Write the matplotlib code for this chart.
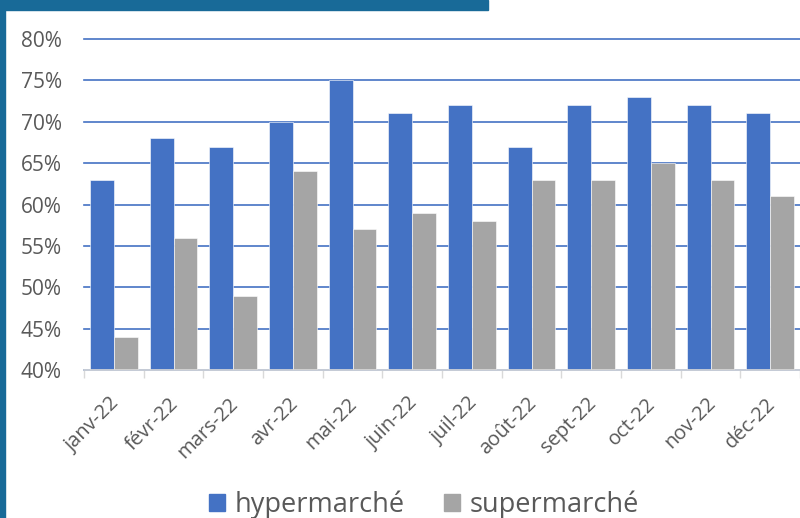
import numpy as np
import matplotlib
matplotlib.use("Agg")
import matplotlib.pyplot as plt
from matplotlib.patches import Rectangle, Patch
from matplotlib.transforms import ScaledTranslation

plt.rcParams['font.family'] = ['Open Sans', 'DejaVu Sans']

# data
months = ['janv-22', 'févr-22', 'mars-22', 'avr-22', 'mai-22', 'juin-22',
          'juil-22', 'août-22', 'sept-22', 'oct-22', 'nov-22', 'déc-22']
hyper = np.array([63, 68, 67, 70, 75, 71, 72, 67, 72, 73, 72, 71]) / 100
super_ = np.array([44, 56, 49, 64, 57, 59, 58, 63, 63, 65, 63, 61]) / 100
series_names = ['hypermarché', 'supermarché']
yticks = np.arange(0.40, 0.801, 0.05)

blue = '#4472C4'
grey = '#A5A5A5'
text_col = '#595959'

fig = plt.figure(figsize=(8, 5.18), dpi=100)
ax = fig.add_axes([0.105, 0.2857, 0.895, 0.639])

x = np.arange(len(months))
w = 0.4
ax.bar(x - w / 2, hyper, w, color=blue, edgecolor='white', linewidth=0.4, zorder=3)
ax.bar(x + w / 2, super_, w, color=grey, edgecolor='white', linewidth=0.4, zorder=3)

ax.set_ylim(0.40, 0.80)
ax.set_xlim(-0.5, len(months) - 0.5)
ax.set_yticks(yticks)
ax.set_yticklabels([f'{int(round(v * 100))}%' for v in yticks])
ax.yaxis.grid(True, color=blue, linewidth=1.2, zorder=0)
for gl in ax.get_ygridlines():
    gl.set_clip_on(False)
ax.tick_params(axis='y', length=0, pad=16, labelsize=15, labelcolor=text_col)

# category boundaries as ticks, labels at the centres
ax.set_xticks(np.arange(-0.5, len(months), 1.0))
ax.set_xticklabels([])
ax.set_xticks(x, minor=True)
ax.set_xticklabels(months, minor=True, rotation=45, ha='right',
                   rotation_mode='anchor', fontsize=14.5, color=text_col)
ax.tick_params(axis='x', which='major', length=6, color='#D9D9D9', width=1)
ax.tick_params(axis='x', which='minor', length=0, pad=17)
shift = ScaledTranslation(-5 / 100, 0, fig.dpi_scale_trans)
for lab in ax.get_xticklabels(minor=True):
    lab.set_transform(lab.get_transform() + shift)

for s in ['top', 'right', 'left']:
    ax.spines[s].set_visible(False)
ax.spines['bottom'].set_color('#D9D9D9')
ax.spines['bottom'].set_linewidth(1.2)
ax.spines['bottom'].set_zorder(4)

# legend
handles = [Patch(color=blue), Patch(color=grey)]
fig.legend(handles, series_names, loc='center', bbox_to_anchor=(0.530, 0.026),
           ncol=2, frameon=False, fontsize=19.5, labelcolor=text_col,
           handlelength=0.6, handleheight=0.6, handletextpad=0.35,
           columnspacing=1.45)

# frame decoration
frame_col = '#186A98'
fig.patches.append(Rectangle((0, 1 - 10 / 518), 488 / 800, 10 / 518,
                             transform=fig.transFigure, color=frame_col, zorder=10))
fig.patches.append(Rectangle((0, 0), 5 / 800, 1,
                             transform=fig.transFigure, color=frame_col, zorder=10))

fig.savefig('out.png', dpi=100)
